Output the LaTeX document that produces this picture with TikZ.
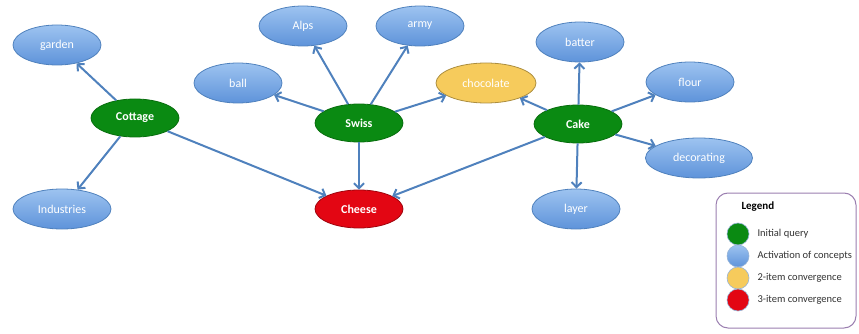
\documentclass[tikz,border=0pt]{standalone}
\usepackage{fontspec}
\setmainfont{Carlito}
\usetikzlibrary{arrows.meta, positioning, shapes.geometric}

\definecolor{qgreen}{HTML}{0A8A12}
\definecolor{cblueA}{HTML}{9DC3F0}
\definecolor{cblueB}{HTML}{5E93DA}
\definecolor{cedge}{HTML}{4F81BD}
\definecolor{cyellow}{HTML}{F6CB5C}
\definecolor{cred}{HTML}{E30613}
\definecolor{legline}{HTML}{9B7FB0}

\tikzset{
  concept/.style={ellipse, draw=cedge, line width=0.8pt, minimum width=88pt, minimum height=40pt,
    inner sep=0pt, text=white, font=\fontsize{12}{14}\selectfont,
    top color=cblueA, bottom color=cblueB},
  query/.style={concept, draw=qgreen!80!black, top color=qgreen, bottom color=qgreen, minimum height=38pt,
    font=\fontsize{12}{14}\selectfont\bfseries},
  twoconv/.style={concept, draw=cyellow!70!black, top color=cyellow, bottom color=cyellow},
  threeconv/.style={query, draw=cred!70!black, top color=cred, bottom color=cred},
  link/.style={-{Straight Barb[length=5pt,width=10pt]}, cedge, line width=2pt},
  legdot/.style={circle, minimum size=22pt, inner sep=0pt, draw=cedge!60, line width=0.6pt},
  legtext/.style={anchor=west, font=\fontsize{10.5}{12}\selectfont, text=black!80}
}

\begin{document}
\begin{tikzpicture}[x=1pt, y=-1pt]
    \useasboundingbox (0,0) rectangle (859,334);

    % Initial queries
    \node[query] (cottage) at (135,118) {Cottage};
    \node[query] (swiss) at (359,123) {Swiss};
    \node[query] (cake) at (578,124) {Cake};

    % Activated concepts
    \node[concept] (garden) at (57,45) {garden};
    \node[concept, minimum width=98pt] (industries) at (62,209) {Industries};
    \node[concept] (ball) at (238,83) {ball};
    \node[concept] (alps) at (303,26) {Alps};
    \node[concept] (army) at (420,26) {army};
    \node[concept] (batter) at (580,42) {batter};
    \node[concept] (flour) at (690,82) {flour};
    \node[concept, minimum width=107pt] (decorating) at (699,158) {decorating};
    \node[concept] (layer) at (576,209) {layer};

    % Convergence
    \node[twoconv, minimum width=100pt] (chocolate) at (486,83) {chocolate};
    \node[threeconv] (cheese) at (359,209) {Cheese};

    % Links
    \draw[link] (cottage) -- (garden);
    \draw[link] (cottage) -- (industries);
    \draw[link] (cottage) -- (cheese);
    \draw[link] (swiss) -- (ball);
    \draw[link] (swiss) -- (alps);
    \draw[link] (swiss) -- (army);
    \draw[link] (swiss) -- (chocolate);
    \draw[link] (swiss) -- (cheese);
    \draw[link] (cake) -- (chocolate);
    \draw[link] (cake) -- (batter);
    \draw[link] (cake) -- (flour);
    \draw[link] (cake) -- (decorating);
    \draw[link] (cake) -- (layer);
    \draw[link] (cake) -- (cheese);

    % Legend
    \draw[legline, line width=1pt, rounded corners=12pt, fill=white] (716,193) rectangle (856,328);
    \node[anchor=west, font=\fontsize{11}{13}\selectfont\bfseries] (legtitle) at (738,207) {Legend};
    \node[legdot, fill=qgreen] (lgreen) at (738,234) {};
    \node[legdot, top color=cblueA, bottom color=cblueB] (lblue) at (738,256) {};
    \node[legdot, fill=cyellow] (lyellow) at (738,278) {};
    \node[legdot, fill=cred] (lred) at (738,300) {};
    \node[legtext] at (754,234) {Initial query};
    \node[legtext] at (754,256) {Activation of concepts};
    \node[legtext] at (754,278) {2-item convergence};
    \node[legtext] at (754,300) {3-item convergence};
\end{tikzpicture}
\end{document}
